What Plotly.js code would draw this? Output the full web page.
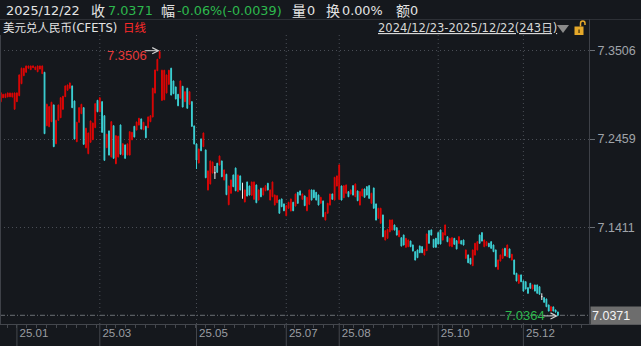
<!DOCTYPE html>
<html><head><meta charset="utf-8">
<script src="https://cdn.plot.ly/plotly-3.0.1.min.js"></script>
<style>html,body{margin:0;padding:0;background:#15181d;}#chart{width:641px;height:346px;}</style>
</head><body><div id="chart"></div>
<script>
// ---- data: USD/CNY (CFETS) daily, 2024/12/23 - 2025/12/22 (243 days) ----
const open = [
7.2902,7.2949,7.2950,7.2958,7.2960,7.2957,7.2812,7.2902,7.2973,7.3115,
7.3210,7.3250,7.3298,7.3281,7.3305,7.3281,7.3257,7.3289,7.3234,7.3250,
7.2617,7.2606,7.2665,7.2863,7.2404,7.2681,7.2712,7.2812,7.2961,7.3037,
7.3061,7.3088,7.2910,7.2428,7.2658,7.2760,7.2831,7.2357,7.2286,7.2421,
7.2452,7.2594,7.2918,7.2783,7.2902,7.2736,7.2357,7.2555,7.2247,7.2617,
7.2167,7.2247,7.2626,7.2270,7.2389,7.2272,7.2270,7.2451,7.2610,7.2566,
7.2626,7.2697,7.2570,7.2610,7.2594,7.2665,7.2721,7.3005,7.3269,7.3416,
7.2918,7.2925,7.3005,7.3108,7.3298,7.3147,7.3076,7.2989,7.2942,7.3084,
7.2902,7.3061,7.2871,7.2902,7.2614,7.2401,7.2176,7.2460,7.2369,7.2330,
7.1856,7.1927,7.2057,7.2060,7.2172,7.2152,7.2199,7.1974,7.2042,7.1681,
7.1817,7.2033,7.2116,7.1836,7.2022,7.1850,7.1714,7.1950,7.1903,7.1793,
7.1745,7.1915,7.1737,7.1876,7.1796,7.1847,7.1935,7.1737,7.1776,7.1678,
7.1705,7.1737,7.1749,7.1690,7.1551,7.1639,7.1607,7.1710,7.1666,7.1828,
7.1844,7.1745,7.1785,7.1610,7.1686,7.1856,7.1854,7.1828,7.1796,7.1698,
7.1725,7.1500,7.1580,7.1678,7.1808,7.1737,7.1903,7.1745,7.1903,7.1764,
7.1817,7.1836,7.1808,7.1907,7.1776,7.1844,7.1678,7.1785,7.1867,7.1895,
7.1907,7.1698,7.1879,7.1690,7.1520,7.1461,7.1559,7.1263,7.1283,7.1361,
7.1382,7.1441,7.1409,7.1302,7.1290,7.1322,7.1177,7.1184,7.1251,7.1204,
7.1125,7.1145,7.1192,7.1184,7.1085,7.1137,7.1374,7.1382,7.1271,7.1283,
7.1350,7.1382,7.1263,7.1322,7.1302,7.1192,7.1184,7.1283,7.1255,7.1224,
7.1255,7.1263,7.1046,7.1086,7.1046,7.0959,7.1085,7.1145,7.1322,7.1350,
7.1184,7.1196,7.1224,7.1243,7.1204,7.1145,7.0916,7.1014,7.1046,7.1165,
7.1065,7.1157,7.1026,7.1026,7.0869,7.0750,7.0849,7.0778,7.0769,7.0698,
7.0750,7.0683,7.0730,7.0730,7.0710,7.0592,7.0580,7.0564,7.0493,7.0422,
7.0470,7.0434,7.0410];
const high = [
7.3015,7.2995,7.2998,7.3010,7.3008,7.3007,7.3010,7.3012,7.3225,7.3305,
7.3302,7.3330,7.3328,7.3329,7.3330,7.3318,7.3330,7.3329,7.3330,7.3255,
7.2878,7.2850,7.2900,7.2868,7.2687,7.2868,7.2955,7.2971,7.3094,7.3105,
7.3128,7.3093,7.2915,7.2663,7.2836,7.2876,7.2836,7.2592,7.2536,7.2678,
7.2654,7.2883,7.2923,7.2955,7.2907,7.2741,7.2521,7.2560,7.2670,7.2622,
7.2504,7.2497,7.2631,7.2409,7.2394,7.2407,7.2551,7.2544,7.2615,7.2666,
7.2710,7.2702,7.2663,7.2615,7.2726,7.2741,7.3066,7.3282,7.3410,7.3506,
7.3280,7.3279,7.3223,7.3279,7.3303,7.3152,7.3081,7.2994,7.3152,7.3089,
7.3025,7.3066,7.3025,7.2907,7.2619,7.2406,7.2346,7.2465,7.2536,7.2335,
7.2086,7.2204,7.2192,7.2140,7.2177,7.2263,7.2204,7.2098,7.2047,7.1908,
7.1979,7.2038,7.2121,7.2038,7.2027,7.1942,7.1861,7.1955,7.1908,7.1955,
7.1955,7.1920,7.1861,7.1881,7.1884,7.1912,7.1940,7.1861,7.1955,7.1801,
7.1793,7.1742,7.1754,7.1695,7.1675,7.1715,7.1754,7.1715,7.1813,7.1833,
7.1849,7.1813,7.1790,7.1774,7.1861,7.1861,7.1859,7.1833,7.1801,7.1774,
7.1730,7.1596,7.1703,7.1813,7.1813,7.2011,7.2027,7.2160,7.1908,7.1912,
7.1920,7.1841,7.1861,7.1912,7.1932,7.1849,7.1841,7.1872,7.1872,7.1900,
7.1912,7.1822,7.1884,7.1695,7.1644,7.1644,7.1564,7.1379,7.1395,7.1505,
7.1506,7.1446,7.1414,7.1379,7.1295,7.1327,7.1288,7.1268,7.1256,7.1209,
7.1130,7.1150,7.1197,7.1189,7.1158,7.1339,7.1379,7.1387,7.1276,7.1288,
7.1355,7.1387,7.1355,7.1446,7.1307,7.1288,7.1295,7.1288,7.1260,7.1307,
7.1260,7.1268,7.1150,7.1091,7.1051,7.1150,7.1229,7.1248,7.1327,7.1355,
7.1268,7.1248,7.1229,7.1248,7.1209,7.1150,7.1031,7.1091,7.1162,7.1170,
7.1209,7.1162,7.1099,7.1031,7.0874,7.0854,7.0854,7.0783,7.0774,7.0703,
7.0755,7.0735,7.0735,7.0735,7.0715,7.0632,7.0585,7.0569,7.0498,7.0478,
7.0475,7.0439,7.0414];
const low = [
7.2895,7.2945,7.2946,7.2955,7.2956,7.2953,7.2808,7.2898,7.2968,7.3110,
7.3205,7.3246,7.3295,7.3278,7.3302,7.3277,7.3252,7.3285,7.3230,7.2518,
7.2612,7.2600,7.2660,7.2364,7.2398,7.2676,7.2708,7.2807,7.2957,7.3032,
7.3057,7.2826,7.2455,7.2423,7.2653,7.2755,7.2392,7.2350,7.2280,7.2416,
7.2447,7.2589,7.2778,7.2778,7.2534,7.2202,7.2352,7.2265,7.2242,7.2226,
7.2162,7.2242,7.2274,7.2265,7.2226,7.2267,7.2265,7.2446,7.2479,7.2561,
7.2621,7.2573,7.2565,7.2470,7.2589,7.2660,7.2716,7.3000,7.3264,7.3411,
7.2912,7.2920,7.3000,7.3103,7.2976,7.2992,7.2929,7.2849,7.2937,7.2834,
7.2897,7.2819,7.2866,7.2605,7.2396,7.2104,7.2171,7.2316,7.2364,7.1996,
7.1851,7.1922,7.2052,7.1986,7.2060,7.2147,7.2008,7.1969,7.1795,7.1676,
7.1812,7.1890,7.1842,7.1831,7.1851,7.1752,7.1709,7.1780,7.1791,7.1788,
7.1740,7.1700,7.1732,7.1771,7.1791,7.1842,7.1851,7.1732,7.1771,7.1673,
7.1700,7.1575,7.1653,7.1605,7.1546,7.1634,7.1602,7.1605,7.1661,7.1693,
7.1791,7.1740,7.1665,7.1605,7.1681,7.1732,7.1759,7.1732,7.1673,7.1693,
7.1534,7.1495,7.1575,7.1673,7.1740,7.1732,7.1898,7.1740,7.1732,7.1759,
7.1812,7.1771,7.1803,7.1791,7.1771,7.1724,7.1673,7.1780,7.1764,7.1791,
7.1752,7.1693,7.1634,7.1495,7.1515,7.1456,7.1297,7.1258,7.1278,7.1356,
7.1377,7.1377,7.1317,7.1297,7.1187,7.1199,7.1172,7.1179,7.1179,7.1128,
7.1021,7.1049,7.1108,7.1108,7.1080,7.1132,7.1219,7.1317,7.1172,7.1172,
7.1211,7.1211,7.1258,7.1317,7.1238,7.1187,7.1179,7.1207,7.1152,7.1219,
7.1211,7.1199,7.1041,7.0989,7.0974,7.0954,7.1080,7.1140,7.1219,7.1246,
7.1179,7.1191,7.1179,7.1160,7.1120,7.0942,7.0911,7.1009,7.1041,7.1072,
7.1060,7.1049,7.1021,7.0852,7.0773,7.0745,7.0764,7.0654,7.0678,7.0627,
7.0686,7.0678,7.0654,7.0627,7.0615,7.0552,7.0520,7.0468,7.0417,7.0417,
7.0417,7.0402,7.0364];
const close = [
7.3008,7.2989,7.2992,7.3005,7.3004,7.3003,7.3005,7.3005,7.3218,7.3298,
7.3298,7.3325,7.3325,7.3325,7.3326,7.3313,7.3325,7.3325,7.3325,7.2523,
7.2871,7.2843,7.2895,7.2369,7.2681,7.2863,7.2949,7.2966,7.3088,7.3100,
7.3123,7.2831,7.2460,7.2658,7.2831,7.2871,7.2397,7.2587,7.2531,7.2673,
7.2649,7.2878,7.2783,7.2949,7.2539,7.2207,7.2516,7.2270,7.2665,7.2231,
7.2499,7.2492,7.2279,7.2404,7.2231,7.2402,7.2546,7.2539,7.2484,7.2661,
7.2705,7.2578,7.2658,7.2475,7.2721,7.2736,7.3061,7.3277,7.3404,7.3494,
7.3274,7.3274,7.3218,7.3274,7.2981,7.2997,7.2934,7.2854,7.3147,7.2839,
7.3020,7.2824,7.3020,7.2610,7.2401,7.2211,7.2341,7.2321,7.2531,7.2001,
7.2081,7.2199,7.2187,7.2060,7.2065,7.2258,7.2013,7.2093,7.1800,7.1903,
7.1974,7.1895,7.1847,7.2033,7.1856,7.1850,7.1856,7.1785,7.1796,7.1950,
7.1950,7.1705,7.1856,7.1776,7.1879,7.1907,7.1856,7.1856,7.1950,7.1796,
7.1788,7.1580,7.1658,7.1610,7.1670,7.1710,7.1749,7.1610,7.1808,7.1698,
7.1796,7.1808,7.1670,7.1769,7.1856,7.1737,7.1764,7.1737,7.1678,7.1769,
7.1539,7.1591,7.1698,7.1808,7.1745,7.2006,7.2022,7.2152,7.1737,7.1907,
7.1915,7.1776,7.1856,7.1796,7.1927,7.1729,7.1836,7.1867,7.1769,7.1796,
7.1757,7.1817,7.1639,7.1500,7.1639,7.1639,7.1302,7.1374,7.1390,7.1500,
7.1500,7.1382,7.1322,7.1374,7.1192,7.1204,7.1283,7.1263,7.1184,7.1133,
7.1026,7.1054,7.1113,7.1113,7.1153,7.1334,7.1224,7.1322,7.1177,7.1177,
7.1216,7.1216,7.1350,7.1441,7.1243,7.1283,7.1290,7.1212,7.1157,7.1302,
7.1216,7.1204,7.1145,7.0994,7.0979,7.1145,7.1224,7.1243,7.1224,7.1251,
7.1263,7.1243,7.1184,7.1165,7.1125,7.0947,7.1026,7.1086,7.1157,7.1077,
7.1204,7.1054,7.1094,7.0857,7.0778,7.0849,7.0769,7.0659,7.0683,7.0632,
7.0691,7.0730,7.0659,7.0632,7.0620,7.0592,7.0525,7.0473,7.0422,7.0473,
7.0422,7.0410,7.0371];

// month ticks (trading-day index of first day in month) and labels
const monthIdx    = [7, 43, 85, 124, 147, 190, 227];
const monthLabels = ["25.01","25.03","25.05","25.07","25.08","25.10","25.12"];
const gridMonths  = [43, 85, 124, 147, 190, 227];
// price axis ticks
const priceTicks = [7.1411, 7.2459, 7.3506];

// ---- styling ----
const BG='#15181d', RED='#de0606', CYAN='#3cd0d4', WHITE='#f2f2f2';
const NUMF='Liberation Sans, Noto Sans CJK SC, sans-serif';
const HDRF='DejaVu Sans, Noto Sans CJK SC, sans-serif';
const CJKF='Noto Sans CJK SC, sans-serif';

const N = close.length;
function subset(cond){
  const ix=[]; for(let i=0;i<N;i++) if(cond(open[i],close[i])) ix.push(i);
  return {x:ix, open:ix.map(i=>open[i]), high:ix.map(i=>high[i]), low:ix.map(i=>low[i]), close:ix.map(i=>close[i])};
}
function candle(d, cInc, cDec){
  return Object.assign({type:'candlestick', whiskerwidth:0, hoverinfo:'skip', showlegend:false,
    increasing:{line:{color:cInc,width:1},fillcolor:cInc},
    decreasing:{line:{color:cDec,width:1},fillcolor:cDec}}, d);
}
const traces = [
  candle(subset((o,c)=>c>o), RED, RED),
  candle(subset((o,c)=>c<o), CYAN, CYAN),
  candle(subset((o,c)=>c===o), WHITE, WHITE)
];

// pixel helpers for decoration (plot area: x 0..589, y 35..324)
const PW=589, PT=35, PB=324, PH=PB-PT;
const fx = p => p/PW;
const fy = p => (PB-p)/PH;

const ann = [];
function txt(px, py, text, color, size, family){
  ann.push({xref:'paper', yref:'paper', x:fx(px), y:fy(py), xanchor:'left', yanchor:'middle',
    text:text, showarrow:false, borderpad:0, font:{color:color, size:size, family:family}});
}
const GREEN='#2db84d', LBL='#e4e4e4';
// header row 1
txt(4.5, 10.5, '2025/12/22', LBL, 12.8, HDRF);
txt(90, 10.5, '收', LBL, 14, CJKF);
txt(106.5, 10.5, close[N-1].toFixed(4), GREEN, 12.8, HDRF);
txt(160, 10.5, '幅', LBL, 14, CJKF);
txt(176, 10.5, '-0.06%(-0.0039)', GREEN, 12.8, HDRF);
txt(290.5, 10.5, '量', LBL, 14, CJKF);
txt(306, 10.5, '0', LBL, 12.8, HDRF);
txt(325, 10.5, '换', LBL, 14, CJKF);
txt(340.5, 10.5, '0.00%', LBL, 12.8, HDRF);
txt(395, 10.5, '额', LBL, 14, CJKF);
txt(408.5, 10.5, '0', LBL, 12.8, HDRF);
// header row 2
txt(1.5, 28.5, '美元兑人民币(CFETS)', LBL, 11.5, HDRF);
txt(122, 28.5, '日线', '#ff2a2a', 11.5, HDRF);
txt(376.5, 28.5, '<u>2024/12/23-2025/12/22(243日)</u>', '#d8d8d8', 11.5, HDRF);

// max / min markers
const hMax = Math.max(...high), iMax = high.indexOf(hMax);
const lMin = Math.min(...low),  iMin = low.indexOf(lMin);
ann.push({x:iMax, y:hMax, xref:'x', yref:'y', text:hMax.toFixed(4), showarrow:false,
  xanchor:'right', yanchor:'middle', xshift:-12, yshift:-5, borderpad:0, font:{color:'#e83a3a', size:13, family:NUMF}});
ann.push({x:iMax, y:hMax, xref:'x', yref:'y', text:'', showarrow:true, ax:-16, ay:0,
  arrowhead:5, arrowsize:1.2, arrowwidth:1, arrowcolor:'#d0d0d0', standoff:0, startstandoff:0});
ann.push({x:iMin, y:lMin, xref:'x', yref:'y', text:lMin.toFixed(4), showarrow:false,
  xanchor:'right', yanchor:'middle', xshift:-12, yshift:0, borderpad:0, font:{color:GREEN, size:13, family:NUMF}});
ann.push({x:iMin, y:lMin, xref:'x', yref:'y', text:'', showarrow:true, ax:-16, ay:0,
  arrowhead:5, arrowsize:1.2, arrowwidth:1, arrowcolor:'#d0d0d0', standoff:0, startstandoff:0});
// last price box on right axis
ann.push({xref:'paper', yref:'y', x:1, y:close[N-1], xanchor:'left', yanchor:'middle', xshift:1,
  text:close[N-1].toFixed(4), showarrow:false, bgcolor:'#6d6d6d', width:48, height:15, borderpad:1, align:'left',
  font:{color:'#f4f4f4', size:12.5, family:NUMF}});

const shapes = [];
const LINEC='#3e4148';
shapes.push({type:'line', xref:'paper', yref:'paper', x0:fx(0), x1:fx(641), y0:fy(19.5), y1:fy(19.5), line:{color:'#2d3036', width:1}});
shapes.push({type:'line', xref:'paper', yref:'paper', x0:fx(589.5), x1:fx(589.5), y0:fy(324), y1:fy(19.5), line:{color:LINEC, width:1}});
shapes.push({type:'line', xref:'paper', yref:'paper', x0:fx(0.5), x1:fx(0.5), y0:fy(324), y1:fy(35), line:{color:LINEC, width:1}});
shapes.push({type:'line', xref:'paper', yref:'paper', x0:fx(0), x1:fx(641), y0:fy(324.5), y1:fy(324.5), line:{color:'#44474d', width:1}});
monthIdx.forEach(m => shapes.push({type:'line', xref:'x', yref:'paper', x0:m, x1:m, y0:fy(324), y1:fy(346), line:{color:'#44474d', width:1}}));
gridMonths.forEach(m => shapes.push({type:'line', xref:'x', yref:'paper', x0:m, x1:m, y0:fy(324), y1:fy(35), layer:'below', line:{color:'#4a4e56', width:1, dash:'1px,3px'}}));
shapes.push({type:'line', xref:'paper', yref:'y', x0:0, x1:1, y0:close[N-1], y1:close[N-1], layer:'below', line:{color:'#6a6e74', width:1, dash:'5px,2px,1px,2px'}});
// dropdown triangle and unlocked lock icon
shapes.push({type:'path', xref:'paper', yref:'paper', path:`M${fx(557)},${fy(25)} L${fx(569)},${fy(25)} L${fx(563)},${fy(33)} Z`, fillcolor:'#8a8a8a', line:{width:0}});
shapes.push({type:'rect', xref:'paper', yref:'paper', x0:fx(574.5), x1:fx(583.5), y0:fy(35), y1:fy(26.5), fillcolor:'#e5a82a', line:{width:0}});
shapes.push({type:'rect', xref:'paper', yref:'paper', x0:fx(578.3), x1:fx(579.8), y0:fy(33), y1:fy(29.5), fillcolor:'#5a4310', line:{width:0}});
shapes.push({type:'path', xref:'paper', yref:'paper', path:`M${fx(580.5)},${fy(26.5)} L${fx(580.5)},${fy(23.5)} Q${fx(580.5)},${fy(21)} ${fx(582.8)},${fy(21)} Q${fx(585)},${fy(21)} ${fx(585)},${fy(23.5)} L${fx(585)},${fy(25)}`, line:{color:'#e5a82a', width:1.5}});

const layout = {
  width:641, height:346, paper_bgcolor:BG, plot_bgcolor:BG,
  margin:{l:0, r:52, t:35, b:22, pad:0},
  font:{family:NUMF, color:'#9ea2a8'},
  showlegend:false, hovermode:false, dragmode:false,
  boxgap:0.5, boxgroupgap:0.3,
  xaxis:{range:[-0.35, 255.5], tickmode:'array', tickvals:monthIdx, ticktext:monthLabels,
    ticks:'', ticklabelstandoff:0,
    ticklabelshift:17, tickfont:{size:11.5, color:'#9a9da2', family:NUMF},
    minor:{ticks:'outside', ticklen:3, tickcolor:'#44474d', tickmode:'linear', tick0:7, dtick:4.3, showgrid:false},
    showgrid:false, zeroline:false, showline:false, rangeslider:{visible:false}, fixedrange:true},
  yaxis:{side:'right', range:[7.0268, 7.3692], tickmode:'array', tickvals:priceTicks,
    ticktext:priceTicks.map(v=>v.toFixed(4)), ticks:'outside', ticklen:5, tickcolor:'#6a6e74',
    tickfont:{size:12.5, color:'#a0a4aa', family:NUMF},
    showgrid:true, gridcolor:'#4a4e56', griddash:'1px,3px', gridwidth:1,
    zeroline:false, showline:false, fixedrange:true},
  annotations:ann, shapes:shapes
};
Plotly.newPlot('chart', traces, layout, {staticPlot:true, displayModeBar:false});
</script></body></html>
